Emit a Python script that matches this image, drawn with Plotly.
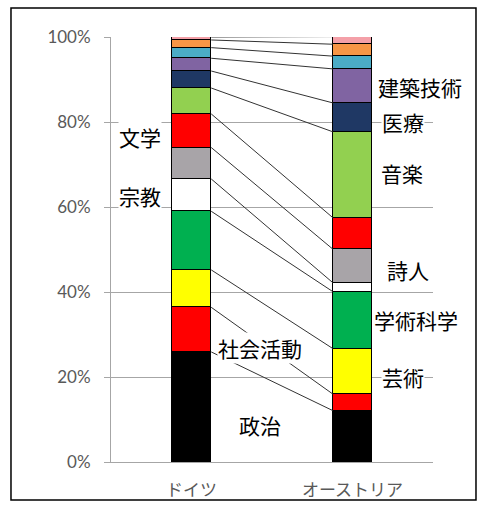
import plotly.graph_objects as go

# Share of notable people by field (%), stacked bottom to top
fields = ["政治", "社会活動", "芸術", "学術科学", "宗教", "詩人", "文学",
          "音楽", "医療", "建築技術", "その他1", "その他2", "その他3"]
germany = [25.9, 10.5, 8.8, 13.8, 7.6, 7.4, 7.9, 6.1, 4.0, 3.0, 2.5, 1.8, 0.7]
austria = [12.1, 3.9, 10.7, 13.4, 2.1, 7.9, 7.4, 20.2, 6.8, 8.0, 3.0, 2.8, 1.8]
countries = ["ドイツ", "オーストリア"]
y_ticks = [0, 20, 40, 60, 80, 100]
y_tick_text = ["0%", "20%", "40%", "60%", "80%", "100%"]
colors = ["#000000", "#FF0000", "#FFFF00", "#00B050", "#FFFFFF", "#A8A4A8",
          "#FF0000", "#92D050", "#1F3864", "#8064A2", "#4BACC6", "#F79646",
          "#F4A0A8"]

BAR_W = 0.245
fig = go.Figure()

for name, g, a, c in zip(fields, germany, austria, colors):
    fig.add_trace(go.Bar(
        x=[0, 1], y=[g, a], name=name, width=BAR_W,
        marker=dict(color=c, line=dict(color="#000000", width=1)),
        showlegend=False, hoverinfo="name+y",
    ))

# Series lines joining the top of each segment across the two bars
cum_g, cum_a = 0.0, 0.0
for g, a in zip(germany, austria):
    cum_g += g
    cum_a += a
    fig.add_trace(go.Scatter(
        x=[BAR_W / 2, 1 - BAR_W / 2], y=[cum_g, cum_a], mode="lines",
        line=dict(color="#333333", width=1), showlegend=False,
        hoverinfo="skip",
    ))

# Field labels: (text, x, y, anchor)
labels = [
    ("文学", -0.32, 76.5, "center"),
    ("宗教", -0.32, 62.6, "center"),
    ("建築技術", 1.155, 88.3, "left"),
    ("医療", 1.18, 80.0, "left"),
    ("音楽", 1.17, 68.0, "left"),
    ("詩人", 1.21, 45.2, "left"),
    ("学術科学", 1.125, 33.3, "left"),
    ("芸術", 1.18, 20.0, "left"),
    ("社会活動", 0.425, 26.8, "center"),
    ("政治", 0.425, 8.7, "center"),
]
for text, lx, ly, anchor in labels:
    fig.add_annotation(
        x=lx, y=ly, text=text, showarrow=False, xanchor=anchor,
        yanchor="middle", bgcolor="#FFFFFF", borderpad=0,
        font=dict(family="Noto Sans CJK JP", size=21, color="#000000"),
    )

# Chart-area frame
fig.add_shape(type="rect", xref="paper", yref="paper",
              x0=-0.3106, x1=1.1335, y0=-0.0894, y1=1.068,
              line=dict(color="#000000", width=1.5), layer="above")

fig.update_layout(
    barmode="stack",
    width=487, height=506, autosize=False,
    margin=dict(l=111, r=54, t=37, b=44),
    paper_bgcolor="#FFFFFF", plot_bgcolor="#FFFFFF",
    bargap=0,
)
fig.update_xaxes(
    range=[-0.5, 1.5], tickvals=[0, 1], ticktext=countries,
    showgrid=False, zeroline=False, showline=True, automargin=False,
    linecolor="#A6A6A6", linewidth=1, ticks="",
    ticklabelstandoff=13,
    tickfont=dict(family="Noto Sans CJK JP", size=17, color="#595959"),
)
fig.update_yaxes(
    range=[0, 100], tickvals=y_ticks, ticktext=y_tick_text,
    showgrid=True, gridcolor="#A6A6A6", gridwidth=1, zeroline=False,
    showline=True, linecolor="#A6A6A6", linewidth=1, automargin=False,
    ticks="outside", ticklen=6, tickcolor="#A6A6A6",
    ticklabelstandoff=10,
    tickfont=dict(family="Lato", size=17, color="#595959"),
)

fig.write_html("out.html")
